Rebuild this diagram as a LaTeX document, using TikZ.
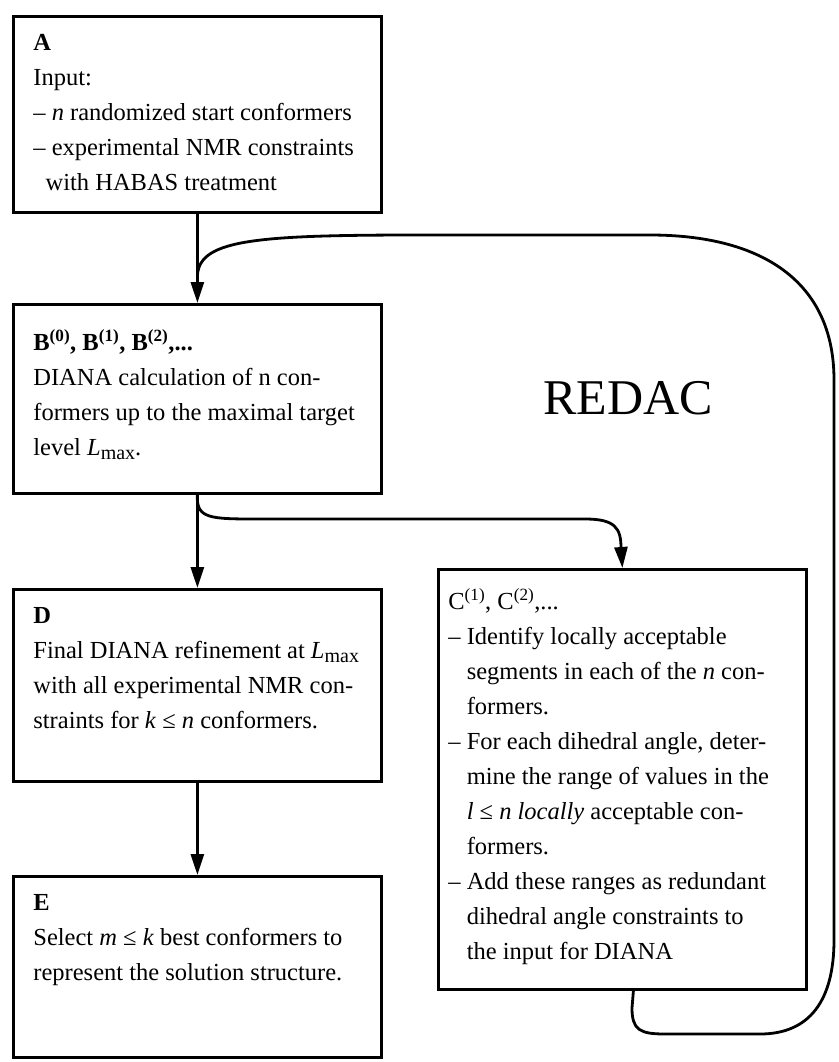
\documentclass[tikz,border=0pt]{standalone}
\usepackage{fontspec}
\setmainfont{Liberation Serif}
\usetikzlibrary{arrows.meta,calc}
\newcommand{\Lmax}{\textit{L}\raisebox{-0.35ex}{\fontsize{20}{20}\selectfont max}}
\newcommand{\stagetext}[3]{\parbox[c][#1][t]{#2}{\raggedright\rule{0pt}{34pt}#3}}

\begin{document}
\begin{tikzpicture}[x=1pt,y=-1pt,
  stage/.style={draw, line width=2.8pt, inner xsep=20pt, inner ysep=0pt, anchor=north west, font=\fontsize{24.5}{35}\selectfont},
  flow/.style={line width=2.8pt, -{Triangle[length=21pt,width=13pt]}},
  back/.style={line width=2.8pt}]
\useasboundingbox (0,0) rectangle (838,1062);
\node[stage] (A) at (12,15) {\stagetext{196pt}{328pt}{\textbf{A}\\
Input:\\
– \textit{n} randomized start conformers\\
– experimental NMR constraints\\
\phantom{–}with HABAS treatment}};
\node[stage] (B) at (12,303) {\stagetext{189pt}{328pt}{\rule{0pt}{46pt}\textbf{B\textsuperscript{(0)}, B\textsuperscript{(1)}, B\textsuperscript{(2)},...}\\
DIANA calculation of n con-\\
formers up to the maximal target\\
level \Lmax.}};
\node[stage] (D) at (12,588) {\stagetext{192pt}{328pt}{\textbf{D}\\
Final DIANA refinement at \Lmax\\
with all experimental NMR con-\\
straints for \textit{k} ≤ \textit{n} conformers.}};
\node[stage] (E) at (12,875) {\stagetext{181pt}{328pt}{\textbf{E}\\
Select \textit{m} ≤ \textit{k} best conformers to\\
represent the solution structure.}};
\node[stage, inner xsep=10pt] (C) at (437,568) {\stagetext{420pt}{348pt}{\rule{0pt}{40pt}C\textsuperscript{(1)}, C\textsuperscript{(2)},...\\
– Identify locally acceptable\\
\phantom{–\ }segments in each of the \textit{n} con-\\
\phantom{–\ }formers.\\
– For each dihedral angle, deter-\\
\phantom{–\ }mine the range of values in the\\
\phantom{–\ }\textit{l} ≤ \textit{n locally} acceptable con-\\
\phantom{–\ }formers.\\
– Add these ranges as redundant\\
\phantom{–\ }dihedral angle constraints to\\
\phantom{–\ }the input for DIANA}};
\node (redac) at (628,398) {\fontsize{50}{50}\selectfont REDAC};
\coordinate (join) at ($(A.south)!0.73!(B.north)$);
\draw[flow] (A) -- (B);
\draw[flow] (B) -- (D);
\draw[flow] (D) -- (E);
\draw[flow] (B.south) .. controls (196,519) and (210,519) .. (260,519) -- (585,519) .. controls (615,519) and (621,528) .. (621,548) -- (C.north);
\draw[back] ([xshift=11pt]C.south) -- (632,1008) .. controls (632,1030) and (640,1034) .. (665,1034) -- (760,1034) .. controls (810,1034) and (834,1000) .. (834,940) -- (834,380) .. controls (834,280) and (760,235) .. (650,235) -- (420,235) .. controls (250,235) and (196,240) .. (join);
\end{tikzpicture}
\end{document}
